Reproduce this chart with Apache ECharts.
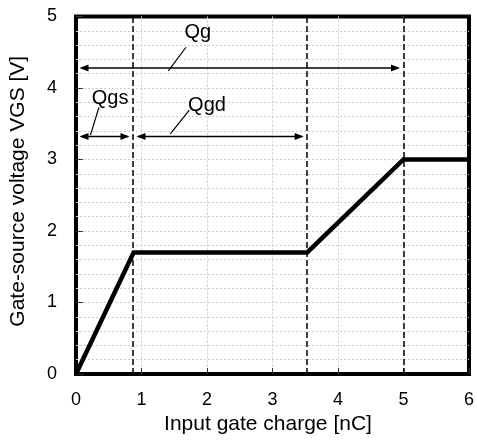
<!DOCTYPE html>
<html>
<head>
<meta charset="utf-8">
<script src="https://cdn.jsdelivr.net/npm/echarts@6/dist/echarts.min.js"></script>
<style>
  html, body { margin: 0; padding: 0; background: #fff; }
  #chart { width: 477px; height: 440px; }
</style>
</head>
<body>
<div id="chart"></div>
<script>
// Gate charge curve of a MOSFET: VGS versus input gate charge
const chargeNC = [0, 0.88, 3.53, 5.0, 6.0];
const vgsV = [0, 1.7, 1.7, 3.0, 3.0];

// Charge boundaries marked with dashed verticals
const boundaryNC = [0.87, 3.53, 5.0];

// Charge intervals shown as double-headed arrows
const spanNames = ['Qg', 'Qgs', 'Qgd'];
const spanFrom = [0, 0, 0.87];
const spanTo = [5.0, 0.87, 3.53];
const spanLevel = [4.28, 3.32, 3.32];

// Label anchors and their leader lines (data coordinates)
const labelAt = [[1.86, 4.77], [0.52, 3.85], [2.0, 3.75]];
const leaderFrom = [[1.68, 4.57], [0.35, 3.73], [1.73, 3.69]];
const leaderTo = [[1.41, 4.24], [0.22, 3.34], [1.44, 3.36]];

const xTicks = [0, 1, 2, 3, 4, 5, 6];
const yTicks = [0, 1, 2, 3, 4, 5];

const FONT = "'Liberation Sans', Arial, sans-serif";
const gridLine = { color: '#cdcdcd', width: 1, type: [2, 2] };

const chart = echarts.init(document.getElementById('chart'), null, { renderer: 'canvas' });

chart.setOption({
  animation: false,
  backgroundColor: '#fff',
  grid: {
    left: 76, right: 5, top: 16.5, bottom: 66,
    show: true, borderColor: '#000', borderWidth: 4, backgroundColor: 'transparent'
  },
  xAxis: {
    type: 'value',
    min: xTicks[0], max: xTicks[xTicks.length - 1], interval: 1,
    name: 'Input gate charge [nC]',
    nameLocation: 'middle', nameGap: 38,
    nameTextStyle: { color: '#000', fontFamily: FONT, fontSize: 21, padding: [0, 9, 0, 0] },
    axisLine: { show: false },
    axisTick: { show: true, inside: true, length: 6, lineStyle: { color: '#333', width: 1 } },
    axisLabel: { color: '#000', fontFamily: FONT, fontSize: 18, margin: 17 },
    splitLine: { show: true, showMinLine: false, showMaxLine: false, lineStyle: gridLine }
  },
  yAxis: {
    type: 'value',
    min: yTicks[0], max: yTicks[yTicks.length - 1], interval: 1,
    name: 'Gate-source voltage VGS [V]',
    nameLocation: 'middle', nameGap: 47,
    nameTextStyle: { color: '#000', fontFamily: FONT, fontSize: 21, padding: [0, 0, 0, 8] },
    axisLine: { show: false },
    axisTick: { show: true, inside: true, length: 7, lineStyle: { color: '#333', width: 1 } },
    axisLabel: { color: '#000', fontFamily: FONT, fontSize: 18, margin: 19 },
    splitLine: { show: true, showMinLine: false, showMaxLine: false, lineStyle: gridLine },
    minorTick: { show: false, splitNumber: 5 },
    minorSplitLine: { show: true, lineStyle: gridLine }
  },
  series: [
    {
      type: 'line',
      data: chargeNC.map((q, i) => [q, vgsV[i]]),
      showSymbol: false,
      lineStyle: { color: '#000', width: 4.5, join: 'miter' },
      z: 5,
      markLine: {
        silent: true,
        symbol: 'none',
        label: { show: false },
        lineStyle: { color: '#000', width: 1.5, type: [6, 3] },
        data: boundaryNC.map(q => ({ xAxis: q }))
      }
    },
    {
      // double-headed span arrows
      type: 'custom',
      clip: false,
      silent: true,
      z: 6,
      data: spanNames.map((n, i) => [spanFrom[i], spanTo[i], spanLevel[i]]),
      renderItem: function (params, api) {
        const a = api.coord([api.value(0), api.value(2)]);
        const b = api.coord([api.value(1), api.value(2)]);
        const inset = 3.5, head = 9, half = 3.5;
        const x1 = a[0] + inset, x2 = b[0] - inset, y = a[1];
        return {
          type: 'group',
          children: [
            { type: 'line', shape: { x1: x1 + 2, y1: y, x2: x2 - 2, y2: y },
              style: { stroke: '#000', lineWidth: 1.5 } },
            { type: 'polygon', shape: { points: [[x1, y], [x1 + head, y - half], [x1 + head, y + half]] },
              style: { fill: '#000' } },
            { type: 'polygon', shape: { points: [[x2, y], [x2 - head, y - half], [x2 - head, y + half]] },
              style: { fill: '#000' } }
          ]
        };
      }
    },
    {
      // span labels with leader lines
      type: 'custom',
      clip: false,
      silent: true,
      z: 6,
      data: spanNames.map((n, i) => [
        leaderFrom[i][0], leaderFrom[i][1], leaderTo[i][0], leaderTo[i][1], labelAt[i][0], labelAt[i][1]
      ]),
      renderItem: function (params, api) {
        const p1 = api.coord([api.value(0), api.value(1)]);
        const p2 = api.coord([api.value(2), api.value(3)]);
        const t = api.coord([api.value(4), api.value(5)]);
        return {
          type: 'group',
          children: [
            { type: 'line', shape: { x1: p1[0], y1: p1[1], x2: p2[0], y2: p2[1] },
              style: { stroke: '#000', lineWidth: 1.2 } },
            { type: 'text', x: t[0], y: t[1],
              style: { text: spanNames[params.dataIndex], fill: '#000',
                       font: '20px ' + FONT, align: 'center', verticalAlign: 'middle' } }
          ]
        };
      }
    }
  ]
});
</script>
</body>
</html>
